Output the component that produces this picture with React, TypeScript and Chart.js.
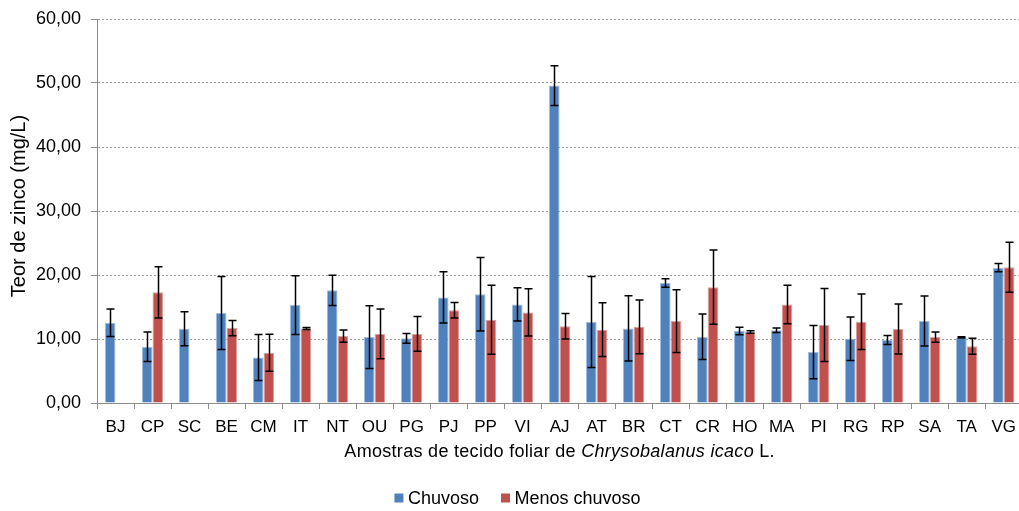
import React, { useEffect, useRef } from "react";
import { Chart, registerables } from "chart.js";

Chart.register(...registerables);

const categories = ["BJ", "CP", "SC", "BE", "CM", "IT", "NT", "OU", "PG", "PJ", "PP", "VI", "AJ", "AT", "BR", "CT", "CR", "HO", "MA", "PI", "RG", "RP", "SA", "TA", "VG"];

const chuvoso = [12.55, 8.8, 11.6, 14.05, 7.1, 15.3, 17.6, 10.3, 10.1, 16.5, 17.0, 15.4, 49.6, 12.65, 11.65, 18.75, 10.35, 11.25, 11.35, 7.95, 10.05, 9.85, 12.8, 10.25, 21.15];
const chuvosoErr = [2.15, 2.3, 2.65, 5.7, 3.6, 4.6, 2.35, 4.9, 0.75, 4.0, 5.75, 2.6, 3.1, 7.1, 5.1, 0.65, 3.55, 0.6, 0.35, 4.15, 3.4, 0.7, 3.9, 0.1, 0.65];

const menosChuvoso = [null, 17.3, null, 11.7, 7.85, 11.65, 10.45, 10.8, 10.8, 14.5, 13.0, 14.15, 12.0, 11.45, 11.9, 12.8, 18.1, 11.1, 15.4, 12.2, 12.7, 11.55, 10.3, 8.85, 21.2];
const menosChuvosoErr = [null, 4.0, null, 1.2, 2.9, 0.15, 0.95, 3.9, 2.7, 1.2, 5.4, 3.7, 2.0, 4.2, 4.2, 4.9, 5.8, 0.2, 3.0, 5.7, 4.35, 3.9, 0.8, 1.25, 3.9];

const seriesNames = ["Chuvoso", "Menos chuvoso"];
const seriesColors = ["#4F81BD", "#C0504D"];
const seriesEdges = ["#a3bddf", "#dea3a1"];
const errors = [chuvosoErr, menosChuvosoErr];

const yTitle = "Teor de zinco (mg/L)";
const xTitleParts: [string, boolean][] = [
  ["Amostras de tecido foliar de ", false],
  ["Chrysobalanus icaco", true],
  [" L.", false],
];

const FONT = "'Liberation Sans', Arial, sans-serif";

const formatValue = (v: number) => v.toFixed(2).replace(".", ",");

// Vertical whiskers with caps, drawn from each bar's value ± its deviation
const errorBars = {
  id: "errorBars",
  afterDatasetsDraw(chart: any) {
    const { ctx } = chart;
    const y = chart.scales.y;
    ctx.save();
    ctx.strokeStyle = "#000";
    ctx.lineWidth = 1.5;
    chart.data.datasets.forEach((ds: any, di: number) => {
      const meta = chart.getDatasetMeta(di);
      meta.data.forEach((bar: any, i: number) => {
        const v = ds.data[i];
        const e = errors[di][i];
        if (v == null || e == null) return;
        const x = Math.round(bar.x) + 0.5;
        const top = y.getPixelForValue(v + e);
        const bot = y.getPixelForValue(v - e);
        const cap = 4;
        ctx.beginPath();
        ctx.moveTo(x, top);
        ctx.lineTo(x, bot);
        ctx.moveTo(x - cap, top);
        ctx.lineTo(x + cap, top);
        ctx.moveTo(x - cap, bot);
        ctx.lineTo(x + cap, bot);
        ctx.stroke();
      });
    });
    ctx.restore();
  },
};

// Value labels of the y axis, axis titles (with the italic species name) and the legend
const annotations = {
  id: "annotations",
  afterDraw(chart: any) {
    const { ctx, chartArea } = chart;
    const yScale = chart.scales.y;
    ctx.save();
    ctx.fillStyle = "#000";

    // y tick labels
    ctx.font = `18px ${FONT}`;
    ctx.textAlign = "right";
    ctx.textBaseline = "middle";
    yScale.ticks.forEach((t: any) => {
      ctx.fillText(formatValue(t.value), 81, yScale.getPixelForValue(t.value));
    });

    // y title
    ctx.save();
    ctx.translate(25, (chartArea.top + chartArea.bottom) / 2 - 5);
    ctx.rotate(-Math.PI / 2);
    ctx.font = `20px ${FONT}`;
    ctx.textAlign = "center";
    ctx.textBaseline = "alphabetic";
    ctx.fillText(yTitle, 0, 0);
    ctx.restore();

    // x title
    ctx.textBaseline = "alphabetic";
    ctx.letterSpacing = "0.3px";
    const widths = xTitleParts.map(([t, it]) => {
      ctx.font = `${it ? "italic " : ""}18px ${FONT}`;
      return ctx.measureText(t).width;
    });
    const total = widths.reduce((a, b) => a + b, 0);
    let x = (chartArea.left + chartArea.right) / 2 - total / 2;
    ctx.textAlign = "left";
    xTitleParts.forEach(([t, it], i) => {
      ctx.font = `${it ? "italic " : ""}18px ${FONT}`;
      ctx.fillText(t, x, 457);
      x += widths[i];
    });

    // legend
    ctx.letterSpacing = "0px";
    ctx.font = `18px ${FONT}`;
    const box = 9;
    const gapText = 4.5;
    const gapItem = 22;
    const itemW = seriesNames.map((n) => box + gapText + ctx.measureText(n).width);
    const legendW = itemW.reduce((a, b) => a + b, 0) + gapItem * (seriesNames.length - 1);
    let lx = 517.5 - legendW / 2;
    const base = 504;
    seriesNames.forEach((n, i) => {
      ctx.fillStyle = seriesColors[i];
      ctx.fillRect(lx, 493.5, box, box);
      ctx.fillStyle = "#000";
      ctx.fillText(n, lx + box + gapText, base);
      lx += itemW[i] + gapItem;
    });
    ctx.restore();
  },
};

export default function App() {
  const ref = useRef<HTMLCanvasElement>(null);

  useEffect(() => {
    if (!ref.current) return;
    const chart = new Chart(ref.current, {
      type: "bar",
      data: {
        labels: categories,
        datasets: [chuvoso, menosChuvoso].map((d, i) => ({
          label: seriesNames[i],
          data: d,
          backgroundColor: seriesColors[i],
          borderColor: seriesEdges[i],
          borderWidth: 1,
          borderSkipped: "start",
          categoryPercentage: 0.58,
          barPercentage: 1,
        })),
      },
      options: {
        responsive: false,
        animation: false,
        devicePixelRatio: 1,
        layout: { padding: { top: 19, left: 0, right: 0, bottom: 0 } },
        plugins: {
          legend: { display: false },
          tooltip: { enabled: false },
          title: { display: false },
        },
        scales: {
          x: {
            afterFit(scale: any) {
              scale.height = 108;
            },
            grid: {
              offset: true,
              drawOnChartArea: false,
              drawTicks: true,
              tickLength: 6,
              tickColor: "#8c8c8c",
              tickWidth: 1,
            },
            border: { display: true, color: "#8c8c8c", width: 1 },
            ticks: {
              color: "#000",
              font: { family: FONT, size: 17 },
              padding: 8,
              maxRotation: 0,
              autoSkip: false,
            },
          },
          y: {
            min: 0,
            max: 60,
            afterFit(scale: any) {
              scale.width = 97;
            },
            ticks: {
              stepSize: 10,
              color: "rgba(0,0,0,0)",
              font: { family: FONT, size: 16 },
              padding: 9,
              callback: (v: any) => formatValue(Number(v)),
            },
            grid: {
              color: "#9a9a9a",
              lineWidth: 1,
              drawTicks: true,
              tickLength: 6,
              tickColor: "#8c8c8c",
              tickBorderDash: [],
            },
            border: { display: true, color: "#8c8c8c", width: 1, dash: [2, 2] },
          },
        },
      },
      plugins: [errorBars, annotations],
    });
    return () => chart.destroy();
  }, []);

  return (
    <div
      style={{
        position: "fixed",
        left: 0,
        top: 0,
        width: 1019,
        height: 511,
        overflow: "hidden",
        background: "#fff",
      }}
    >
      <canvas ref={ref} width={1024} height={511} style={{ display: "block" }} />
    </div>
  );
}
